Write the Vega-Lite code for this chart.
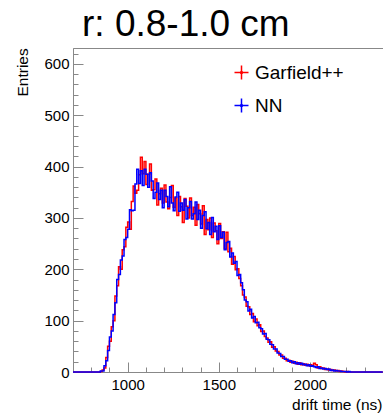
{
  "$schema": "https://vega.github.io/schema/vega-lite/v6.json",
  "autosize": {"type": "none"},
  "padding": {"left": 73, "top": 48, "right": 0, "bottom": 43},
  "width": 312,
  "height": 324,
  "background": "white",
  "config": {
    "view": {"stroke": "#888", "strokeWidth": 1},
    "font": "Liberation Sans"
  },
  "title": {
    "text": "r: 0.8-1.0 cm",
    "anchor": "start",
    "frame": "group",
    "dx": 9,
    "dy": 38,
    "offset": 12,
    "baseline": "alphabetic",
    "fontSize": 37,
    "fontWeight": "normal",
    "font": "Liberation Sans",
    "color": "black"
  },
  "data": {
    "values": [
      {"t": 700, "Garfield++": 0, "NN": 0},
      {"t": 840, "Garfield++": 0, "NN": 0},
      {"t": 850, "Garfield++": 1, "NN": 2},
      {"t": 860, "Garfield++": 4, "NN": 2},
      {"t": 870, "Garfield++": 8, "NN": 12},
      {"t": 880, "Garfield++": 28, "NN": 22},
      {"t": 890, "Garfield++": 50, "NN": 42},
      {"t": 900, "Garfield++": 60, "NN": 68},
      {"t": 910, "Garfield++": 88, "NN": 80},
      {"t": 920, "Garfield++": 100, "NN": 112},
      {"t": 930, "Garfield++": 148, "NN": 135},
      {"t": 940, "Garfield++": 168, "NN": 180},
      {"t": 950, "Garfield++": 205, "NN": 190},
      {"t": 960, "Garfield++": 200, "NN": 218},
      {"t": 970, "Garfield++": 238, "NN": 226},
      {"t": 980, "Garfield++": 244, "NN": 258},
      {"t": 990, "Garfield++": 282, "NN": 262},
      {"t": 1000, "Garfield++": 292, "NN": 278},
      {"t": 1010, "Garfield++": 278, "NN": 316},
      {"t": 1020, "Garfield++": 332, "NN": 314},
      {"t": 1030, "Garfield++": 362, "NN": 315},
      {"t": 1040, "Garfield++": 348, "NN": 366},
      {"t": 1050, "Garfield++": 354, "NN": 395},
      {"t": 1060, "Garfield++": 384, "NN": 367},
      {"t": 1070, "Garfield++": 418, "NN": 392},
      {"t": 1080, "Garfield++": 386, "NN": 363},
      {"t": 1090, "Garfield++": 410, "NN": 395},
      {"t": 1100, "Garfield++": 365, "NN": 385},
      {"t": 1110, "Garfield++": 385, "NN": 360},
      {"t": 1120, "Garfield++": 405, "NN": 388},
      {"t": 1130, "Garfield++": 354, "NN": 372},
      {"t": 1140, "Garfield++": 355, "NN": 338},
      {"t": 1150, "Garfield++": 376, "NN": 350},
      {"t": 1160, "Garfield++": 325, "NN": 368},
      {"t": 1170, "Garfield++": 347, "NN": 336},
      {"t": 1180, "Garfield++": 358, "NN": 354},
      {"t": 1190, "Garfield++": 329, "NN": 320},
      {"t": 1200, "Garfield++": 364, "NN": 354},
      {"t": 1210, "Garfield++": 331, "NN": 342},
      {"t": 1220, "Garfield++": 318, "NN": 322},
      {"t": 1230, "Garfield++": 340, "NN": 361},
      {"t": 1240, "Garfield++": 363, "NN": 329},
      {"t": 1250, "Garfield++": 321, "NN": 314},
      {"t": 1260, "Garfield++": 339, "NN": 341},
      {"t": 1270, "Garfield++": 305, "NN": 350},
      {"t": 1280, "Garfield++": 342, "NN": 313},
      {"t": 1290, "Garfield++": 322, "NN": 329},
      {"t": 1300, "Garfield++": 291, "NN": 315},
      {"t": 1310, "Garfield++": 338, "NN": 336},
      {"t": 1320, "Garfield++": 323, "NN": 298},
      {"t": 1330, "Garfield++": 300, "NN": 320},
      {"t": 1340, "Garfield++": 339, "NN": 332},
      {"t": 1350, "Garfield++": 305, "NN": 298},
      {"t": 1360, "Garfield++": 321, "NN": 308},
      {"t": 1370, "Garfield++": 286, "NN": 331},
      {"t": 1380, "Garfield++": 326, "NN": 297},
      {"t": 1390, "Garfield++": 308, "NN": 315},
      {"t": 1400, "Garfield++": 288, "NN": 280},
      {"t": 1410, "Garfield++": 324, "NN": 305},
      {"t": 1420, "Garfield++": 268, "NN": 312},
      {"t": 1430, "Garfield++": 297, "NN": 279},
      {"t": 1440, "Garfield++": 277, "NN": 291},
      {"t": 1450, "Garfield++": 300, "NN": 268},
      {"t": 1460, "Garfield++": 262, "NN": 301},
      {"t": 1470, "Garfield++": 290, "NN": 273},
      {"t": 1480, "Garfield++": 275, "NN": 284},
      {"t": 1490, "Garfield++": 250, "NN": 258},
      {"t": 1500, "Garfield++": 289, "NN": 285},
      {"t": 1510, "Garfield++": 260, "NN": 262},
      {"t": 1520, "Garfield++": 273, "NN": 272},
      {"t": 1530, "Garfield++": 240, "NN": 238},
      {"t": 1540, "Garfield++": 272, "NN": 252},
      {"t": 1550, "Garfield++": 234, "NN": 254},
      {"t": 1560, "Garfield++": 241, "NN": 224},
      {"t": 1570, "Garfield++": 210, "NN": 232},
      {"t": 1580, "Garfield++": 225, "NN": 212},
      {"t": 1590, "Garfield++": 199, "NN": 215},
      {"t": 1600, "Garfield++": 201, "NN": 188},
      {"t": 1610, "Garfield++": 182, "NN": 190},
      {"t": 1620, "Garfield++": 168, "NN": 174},
      {"t": 1630, "Garfield++": 150, "NN": 160},
      {"t": 1640, "Garfield++": 146, "NN": 140},
      {"t": 1650, "Garfield++": 128, "NN": 137},
      {"t": 1660, "Garfield++": 127, "NN": 119},
      {"t": 1670, "Garfield++": 112, "NN": 122},
      {"t": 1680, "Garfield++": 114, "NN": 105},
      {"t": 1690, "Garfield++": 98, "NN": 108},
      {"t": 1700, "Garfield++": 103, "NN": 96},
      {"t": 1710, "Garfield++": 90, "NN": 97},
      {"t": 1720, "Garfield++": 92, "NN": 86},
      {"t": 1730, "Garfield++": 79, "NN": 84},
      {"t": 1740, "Garfield++": 80, "NN": 74},
      {"t": 1750, "Garfield++": 69, "NN": 75},
      {"t": 1760, "Garfield++": 66, "NN": 64},
      {"t": 1770, "Garfield++": 58, "NN": 63},
      {"t": 1780, "Garfield++": 59, "NN": 54},
      {"t": 1790, "Garfield++": 48, "NN": 53},
      {"t": 1800, "Garfield++": 49, "NN": 45},
      {"t": 1810, "Garfield++": 41, "NN": 45},
      {"t": 1820, "Garfield++": 40, "NN": 37},
      {"t": 1830, "Garfield++": 33, "NN": 36},
      {"t": 1840, "Garfield++": 33, "NN": 30},
      {"t": 1850, "Garfield++": 27, "NN": 30},
      {"t": 1860, "Garfield++": 27, "NN": 25},
      {"t": 1870, "Garfield++": 22, "NN": 25},
      {"t": 1880, "Garfield++": 23, "NN": 21},
      {"t": 1890, "Garfield++": 19, "NN": 22},
      {"t": 1900, "Garfield++": 21, "NN": 18},
      {"t": 1910, "Garfield++": 17, "NN": 20},
      {"t": 1920, "Garfield++": 19, "NN": 16},
      {"t": 1930, "Garfield++": 15, "NN": 18},
      {"t": 1940, "Garfield++": 18, "NN": 15},
      {"t": 1950, "Garfield++": 14, "NN": 17},
      {"t": 1960, "Garfield++": 16, "NN": 14},
      {"t": 1970, "Garfield++": 13, "NN": 15},
      {"t": 1980, "Garfield++": 15, "NN": 12},
      {"t": 1990, "Garfield++": 12, "NN": 14},
      {"t": 2000, "Garfield++": 14, "NN": 11},
      {"t": 2010, "Garfield++": 11, "NN": 12},
      {"t": 2020, "Garfield++": 17, "NN": 10},
      {"t": 2030, "Garfield++": 14, "NN": 9},
      {"t": 2040, "Garfield++": 8, "NN": 10},
      {"t": 2050, "Garfield++": 10, "NN": 7},
      {"t": 2060, "Garfield++": 7, "NN": 8},
      {"t": 2070, "Garfield++": 8, "NN": 6},
      {"t": 2080, "Garfield++": 5, "NN": 7},
      {"t": 2090, "Garfield++": 6, "NN": 5},
      {"t": 2100, "Garfield++": 4, "NN": 6},
      {"t": 2110, "Garfield++": 5, "NN": 3},
      {"t": 2120, "Garfield++": 3, "NN": 4},
      {"t": 2130, "Garfield++": 4, "NN": 2},
      {"t": 2140, "Garfield++": 2, "NN": 3},
      {"t": 2150, "Garfield++": 3, "NN": 2},
      {"t": 2160, "Garfield++": 1, "NN": 2},
      {"t": 2170, "Garfield++": 2, "NN": 1},
      {"t": 2180, "Garfield++": 1, "NN": 1},
      {"t": 2190, "Garfield++": 0, "NN": 1},
      {"t": 2200, "Garfield++": 1, "NN": 0},
      {"t": 2210, "Garfield++": 0, "NN": 1},
      {"t": 2220, "Garfield++": 0, "NN": 0},
      {"t": 2400, "Garfield++": 0, "NN": 0}
    ]
  },
  "transform": [{"fold": ["Garfield++", "NN"], "as": ["series", "entries"]}],
  "mark": {"type": "line", "interpolate": "step-after", "strokeWidth": 1.5},
  "encoding": {
    "x": {
      "field": "t",
      "type": "quantitative",
      "scale": {"domain": [700, 2412], "nice": false, "zero": false},
      "axis": {
        "values": [700, 800, 900, 1000, 1100, 1200, 1300, 1400, 1500, 1600, 1700, 1800, 1900, 2000, 2100, 2200, 2300, 2400],
        "format": "d",
        "labelExpr": "datum.value % 500 === 0 ? datum.label : ''",
        "labelOverlap": false,
        "labelFontSize": 15,
        "labelFont": "Liberation Sans",
        "labelColor": "black",
        "labelPadding": 15,
        "tickSize": {"condition": {"test": "datum.value % 500 === 0", "value": -10}, "value": -5},
        "tickColor": "#888",
        "domainColor": "#888",
        "grid": false,
        "title": "drift time (ns)",
        "titleFontSize": 15.5,
        "titleFont": "Liberation Sans",
        "titleFontWeight": "normal",
        "titleColor": "black",
        "titleAnchor": "end",
        "titleAlign": "right",
        "titleX": 309,
        "titleY": 37,
        "titleBaseline": "alphabetic"
      }
    },
    "y": {
      "field": "entries",
      "type": "quantitative",
      "scale": {"domain": [0, 631], "nice": false},
      "axis": {
        "values": [0, 20, 40, 60, 80, 100, 120, 140, 160, 180, 200, 220, 240, 260, 280, 300, 320, 340, 360, 380, 400, 420, 440, 460, 480, 500, 520, 540, 560, 580, 600, 620],
        "labelExpr": "datum.value % 100 === 0 ? datum.label : ''",
        "labelOverlap": false,
        "labelFontSize": 15,
        "labelFont": "Liberation Sans",
        "labelColor": "black",
        "labelPadding": 14,
        "tickSize": {"condition": {"test": "datum.value % 100 === 0", "value": -10}, "value": -5},
        "tickColor": "#888",
        "domainColor": "#888",
        "grid": false,
        "title": "Entries",
        "titleFontSize": 15.5,
        "titleFont": "Liberation Sans",
        "titleFontWeight": "normal",
        "titleColor": "black",
        "titleAnchor": "end",
        "titleAlign": "left",
        "titleAngle": -90,
        "titleX": -46,
        "titleY": 48,
        "titleBaseline": "alphabetic"
      }
    },
    "color": {
      "field": "series",
      "type": "nominal",
      "scale": {"domain": ["Garfield++", "NN"], "range": ["#ff0000", "#0000ff"]},
      "legend": {
        "title": null,
        "orient": "none",
        "legendX": 159,
        "legendY": 15,
        "padding": 0,
        "symbolType": "M-1,0H1M0,-1V1M-0.15,0A0.15,0.15 0 1,0 0.15,0A0.15,0.15 0 1,0 -0.15,0",
        "symbolSize": 196,
        "symbolStrokeWidth": 1.5,
        "symbolFillColor": "transparent",
        "labelFontSize": 19,
        "labelFont": "Liberation Sans",
        "labelColor": "black",
        "labelOffset": 4,
        "rowPadding": 12
      }
    }
  }
}
